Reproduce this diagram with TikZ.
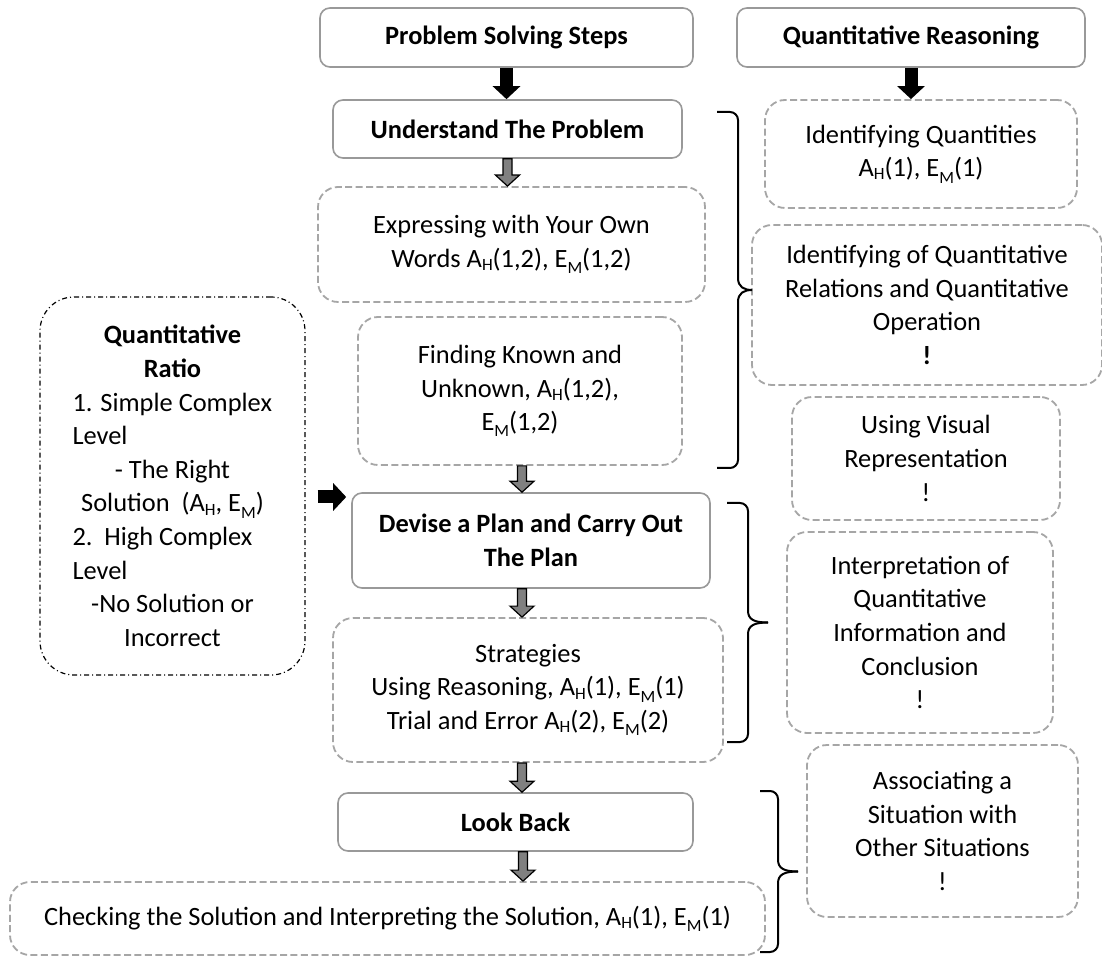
\documentclass[tikz,border=0pt]{standalone}
\usepackage{fontspec}
\setmainfont{Carlito}
\usetikzlibrary{arrows.meta,calc}
\newcommand{\subAH}{A\raisebox{-0.25ex}{\fontsize{8.6pt}{8.6pt}\selectfont H}}
\newcommand{\subEM}{E\raisebox{-0.5ex}{\fontsize{8.6pt}{8.6pt}\selectfont M}}
\newcommand{\ratioline}[1]{\makebox[100pt][l]{#1}}
\newcommand{\sidebrace}[5]{%
  \draw[bracemark] (#3,{(#4+#5)/2}) .. controls ({#2+6},{(#4+#5)/2}) and (#2,{(#4+#5)/2-3}) .. (#2,{(#4+#5)/2-12})
      [rounded corners=4pt] -- (#2,#4) -- (#1,#4);
  \draw[bracemark] (#3,{(#4+#5)/2}) .. controls ({#2+6},{(#4+#5)/2}) and (#2,{(#4+#5)/2+3}) .. (#2,{(#4+#5)/2+12})
      [rounded corners=4pt] -- (#2,#5) -- (#1,#5);
}
\begin{document}
\begin{tikzpicture}[x=0.5pt, y=-0.5pt,
    every node/.style={font=\fontsize{13.2pt}{16.8pt}\selectfont, align=center, inner sep=2pt},
    stepbox/.style={draw=black!40, line width=0.8pt, rounded corners=5pt,
                    font=\fontsize{13.2pt}{16.8pt}\selectfont\bfseries},
    dashbox/.style={draw=black!35, line width=0.9pt, rounded corners=10pt,
                    dash pattern=on 3.5pt off 1.7pt},
    ratiobox/.style={draw=black, line width=0.6pt, rounded corners=17pt,
                     dash pattern=on 2.5pt off 1.5pt on 0.5pt off 1.5pt},
    blackarrow/.style={line width=6.5pt, -{Triangle[width=13.5pt,length=6.5pt]}},
    hollowarrow/.style={draw=black, line width=0.6pt, fill=gray, line join=miter,
        to path={let \p1=(\tikztostart), \p2=(\tikztotarget) in
          (\x1-2.25pt,\y1) -- (\x1+2.25pt,\y1) -- (\x1+2.25pt,\y2+5.5pt) -- (\x1+6pt,\y2+5.5pt)
          -- (\x1,\y2) -- (\x1-6pt,\y2+5.5pt) -- (\x1-2.25pt,\y2+5.5pt) -- cycle}},
    bracemark/.style={line width=1pt}
]
\path[fill=white, use as bounding box] (0,0) rectangle (1102,956);

\node[stepbox, minimum width=186.5pt, minimum height=29.5pt] (pss)   at (506.5,37.5) {Problem Solving Steps};
\node[stepbox, minimum width=174pt,   minimum height=29.5pt] (qr)    at (911,37.5)   {Quantitative Reasoning};
\node[stepbox, minimum width=174.5pt, minimum height=29pt]   (und)   at (507.5,129)  {Understand The Problem};
\node[dashbox, minimum width=193.5pt, minimum height=57.5pt] (expr)  at (511.5,244.5)
    {Expressing with Your Own\\Words \subAH(1,2), \subEM(1,2)};
\node[dashbox, minimum width=162pt,   minimum height=74pt]   (find)  at (520,391)
    {Finding Known and\\Unknown, \subAH(1,2),\\\subEM(1,2)};
\node[stepbox, minimum width=179pt,   minimum height=47.5pt] (dev)   at (531,540.5)
    {Devise a Plan and Carry Out\\The Plan};
\node[dashbox, minimum width=195pt,   minimum height=72pt]   (strat) at (528,690)
    {Strategies\\Using Reasoning, \subAH(1), \subEM(1)\\Trial and Error \subAH(2), \subEM(2)};
\node[stepbox, minimum width=177.5pt, minimum height=29pt]   (look)  at (515.5,822)  {Look Back};
\node[dashbox, minimum width=377.5pt, minimum height=36.5pt] (check) at (387.5,918.5)
    {Checking the Solution and Interpreting the Solution, \subAH(1), \subEM(1)};

\node[dashbox, minimum width=156pt,   minimum height=54pt]   (idq)    at (921,154)
    {Identifying Quantities\\\subAH(1), \subEM(1)};
\node[dashbox, minimum width=175pt,   minimum height=80pt]   (idrel)  at (927,305)
    {Identifying of Quantitative\\Relations and Quantitative\\Operation\\\textbf{!}};
\node[dashbox, minimum width=134pt,   minimum height=61.5pt] (vis)    at (926,458.5)
    {Using Visual\\Representation\\!};
\node[dashbox, minimum width=133pt,   minimum height=100.5pt] (interp) at (920,632.5)
    {Interpretation of\\Quantitative\\Information and\\Conclusion\\!};
\node[dashbox, minimum width=135.5pt, minimum height=86pt]   (assoc)  at (942.5,831)
    {Associating a\\Situation with\\Other Situations\\!};

\node[ratiobox, minimum width=132.5pt, minimum height=189pt, text width=100.5pt, align=flush center]
    (ratio) at (172.5,486)
    {\textbf{Quantitative}\\\textbf{Ratio}\\\ratioline{1. Simple Complex}\\\ratioline{Level}\\
     - The Right\\Solution\ \ (\subAH, \subEM)\\\ratioline{2.\ \ High Complex}\\\ratioline{Level}\\
     -No Solution or\\Incorrect};

\coordinate (ratioin) at (0,497);

\draw[blackarrow] (pss.south) -- (pss.south |- und.north);
\draw[blackarrow] (qr.south) -- (qr.south |- idq.north);
\draw[blackarrow, shorten <=6pt, shorten >=2.5pt] (ratio.east |- ratioin) -- (dev.west |- ratioin);
\draw[hollowarrow] (und.south) to (expr.north);
\draw[hollowarrow] ([xshift=1pt]find.south) to (dev.north);
\draw[hollowarrow] ([xshift=-4.5pt]dev.south) to (strat.north);
\draw[hollowarrow] ([xshift=-3pt]strat.south) to (look.north);
\draw[hollowarrow] ([xshift=3.75pt]look.south) to (check.north);

\sidebrace{717}{738}{752}{112}{468}
\sidebrace{727}{748}{768}{503}{742}
\sidebrace{760}{778}{798}{791}{952}

\end{tikzpicture}
\end{document}
